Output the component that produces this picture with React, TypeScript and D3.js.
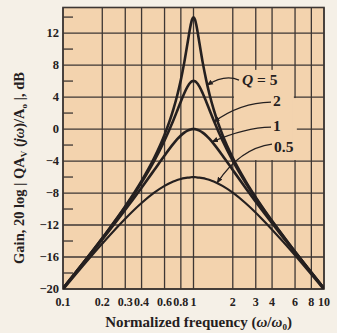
import React from 'react';
import * as d3 from 'd3';

// normalized frequency samples (omega/omega0)
const freqs = [0.1, 0.2, 0.3, 0.4, 0.5, 0.6, 0.7, 0.75, 0.8, 0.85, 0.9, 0.95, 0.975, 1,
  1.026, 1.053, 1.111, 1.176, 1.25, 1.333, 1.429, 1.667, 2, 2.5, 3.333, 5, 10];

// gain in dB
const gainQ5 = [-19.91, -13.63, -9.66, -6.48, -3.6, -0.71, 2.43, 4.2, 6.15, 8.34, 10.73, 12.96, 13.71, 13.98,
  13.71, 12.96, 10.73, 8.34, 6.15, 4.2, 2.43, -0.71, -3.6, -6.48, -9.66, -13.63, -19.91];
const gainQ2 = [-19.92, -13.67, -9.76, -6.68, -3.98, -1.42, 1.08, 2.29, 3.44, 4.48, 5.31, 5.84, 5.98, 6.02,
  5.98, 5.84, 5.31, 4.48, 3.44, 2.29, 1.08, -1.42, -3.98, -6.68, -9.76, -13.67, -19.92];
const gainQ1 = [-19.96, -13.81, -10.09, -7.33, -5.12, -3.3, -1.85, -1.27, -0.8, -0.44, -0.19, -0.05, -0.01, 0,
  -0.01, -0.05, -0.19, -0.44, -0.8, -1.27, -1.85, -3.3, -5.12, -7.33, -10.09, -13.81, -19.96];
const gainQ05 = [-20.09, -14.32, -11.21, -9.25, -7.96, -7.11, -6.56, -6.37, -6.24, -6.14, -6.07, -6.03, -6.02, -6.02,
  -6.02, -6.03, -6.07, -6.14, -6.24, -6.37, -6.56, -7.11, -7.96, -9.25, -11.21, -14.32, -20.09];

const seriesNames = ['5', '2', '1', '0.5'];
const seriesGains = [gainQ5, gainQ2, gainQ1, gainQ05];

const xTicks = [0.1, 0.2, 0.3, 0.4, 0.6, 0.8, 1, 2, 3, 4, 6, 8, 10];
const xTickLabels = ['0.1', '0.2', '0.3', '0.4', '0.6', '0.8', '1', '2', '3', '4', '6', '8', '10'];
const yTicks = [-20, -16, -12, -8, -4, 0, 4, 8, 12];
const yTickLabels = ['\u221220', '\u221216', '\u221212', '\u22128', '\u22124', '0', '4', '8', '12'];
const yMinor = [-18, -14, -10, -6, -2, 2, 6, 10, 14];

// annotation: label anchor (freq, dB), leader start, control, target on curve
const annLabelF = [2.353, 4.067, 4.067, 4.14];
const annLabelDb = [5.5, 2.875, -0.25, -2.875];
const annStartF = [2.232, 3.926, 3.926, 3.996];
const annStartDb = [6.125, 3.375, 0.25, -1.875];
const annCtrlF = [1.743, 2.271, 2.481, 2.271];
const annCtrlDb = [6.9, 3.3, 0.2, -2.4];
const annTargetF = [1.27, 1.435, 1.389, 1.514];
const annTargetDb = [5.5, 0.9, -1.6, -6.75];

const W = 337, H = 333;
const L = 63, R = 324, T = 7.5, B = 289;

export default function App() {
  const x = d3.scaleLog().domain([0.1, 10]).range([L, R]);
  const y = d3.scaleLinear().domain([-20, 15.2]).range([B, T]);
  const line = d3.line<number>()
    .x((_, i) => x(freqs[i]))
    .y((d) => y(d))
    .curve(d3.curveMonotoneX);

  const grid = '#3d3633';
  const ink = '#252020';
  const paper = '#f3d3ae';
  const font = '"Liberation Serif", "Times New Roman", serif';

  // blank region behind labels
  const boxX0 = x(2) + 1.2, boxX1 = x(6) - 1.2;
  const boxY0 = y(7.4), boxY1 = y(-4) - 1;

  return (
    <svg width={W} height={H} style={{ position: 'absolute', left: 0, top: 0 }} fontFamily={font}>
      <defs>
        <marker id="ah" viewBox="0 0 10 10" refX="9" refY="5" markerWidth="5" markerHeight="5" orient="auto">
          <path d="M0,1 L10,5 L0,9 Z" fill={ink} />
        </marker>
        <clipPath id="plot">
          <rect x={L} y={T} width={R - L} height={B - T} />
        </clipPath>
      </defs>
      <rect x={0} y={0} width={W} height={H} fill="#f5f0e7" />
      <rect x={L} y={T} width={R - L} height={B - T} fill={paper} />
      {/* grid */}
      {xTicks.map((t) => (
        <line key={'gx' + t} x1={x(t)} x2={x(t)} y1={T} y2={B} stroke={grid} strokeWidth={1.3} />
      ))}
      {yTicks.map((t) => (
        <line key={'gy' + t} x1={L} x2={R} y1={y(t)} y2={y(t)} stroke={grid} strokeWidth={1.3} />
      ))}
      {yMinor.map((t) => (
        <line key={'my' + t} x1={L} x2={L + 10} y1={y(t)} y2={y(t)} stroke={grid} strokeWidth={1.3} />
      ))}
      <rect x={boxX0} y={boxY0} width={boxX1 - boxX0} height={boxY1 - boxY0} fill={paper} />
      <rect x={boxX1 - 1} y={y(4) + 1} width={4} height={y(-4) - y(4) - 2} fill={paper} />
      <rect x={L} y={T} width={R - L} height={B - T} fill="none" stroke={grid} strokeWidth={1.6} />
      {/* curves */}
      <g clipPath="url(#plot)">
        {seriesGains.map((g, i) => (
          <path key={'c' + i} d={line(g) || ''} fill="none" stroke={ink}
            strokeWidth={i === 3 ? 2.2 : 2.6} strokeLinejoin="round" />
        ))}
      </g>
      {/* annotations */}
      {seriesNames.map((n, i) => {
        const sx = x(annStartF[i]), sy = y(annStartDb[i]);
        const cx = x(annCtrlF[i]), cy = y(annCtrlDb[i]);
        const tx = x(annTargetF[i]), ty = y(annTargetDb[i]);
        return (
          <g key={'a' + i}>
            <path d={`M${sx},${sy} Q${cx},${cy} ${tx},${ty}`} fill="none" stroke={ink} strokeWidth={1.3}
              markerEnd="url(#ah)" />
            <text x={x(annLabelF[i])} y={y(annLabelDb[i])} fontSize={15.5} fontWeight="bold" fill={ink}>
              {i === 0 ? (<><tspan fontStyle="italic">Q</tspan>{' = ' + n}</>) : n}
            </text>
          </g>
        );
      })}
      {/* tick labels */}
      {xTicks.map((t, i) => (
        <text key={'tx' + t} x={x(t)} y={306} textAnchor="middle" fontSize={12} fontWeight="bold" fill={ink}>
          {xTickLabels[i]}
        </text>
      ))}
      {yTicks.map((t, i) => (
        <text key={'ty' + t} x={59} y={y(t) + 4} textAnchor="end" fontSize={12.5} fontWeight="bold" fill={ink}>
          {yTickLabels[i]}
        </text>
      ))}
      <text x={(L + R) / 2 + 5} y={327} textAnchor="middle" fontSize={15} fontWeight="bold" fill={ink}>
        Normalized frequency (<tspan fontStyle="italic">ω</tspan>/<tspan fontStyle="italic">ω</tspan>
        <tspan fontSize={9} dy={3}>0</tspan><tspan dy={-3}>)</tspan>
      </text>
      <text transform={`translate(24,${168}) rotate(-90)`} textAnchor="middle" fontSize={14.5} fontWeight="bold" fill={ink}>
        Gain, 20 log | <tspan>QA</tspan><tspan fontSize={9} dy={3}>V</tspan>
        <tspan dy={-3}> (</tspan><tspan fontStyle="italic">jω</tspan>)/A<tspan fontSize={9} dy={3}>o</tspan>
        <tspan dy={-3}> |, dB</tspan>
      </text>
    </svg>
  );
}
